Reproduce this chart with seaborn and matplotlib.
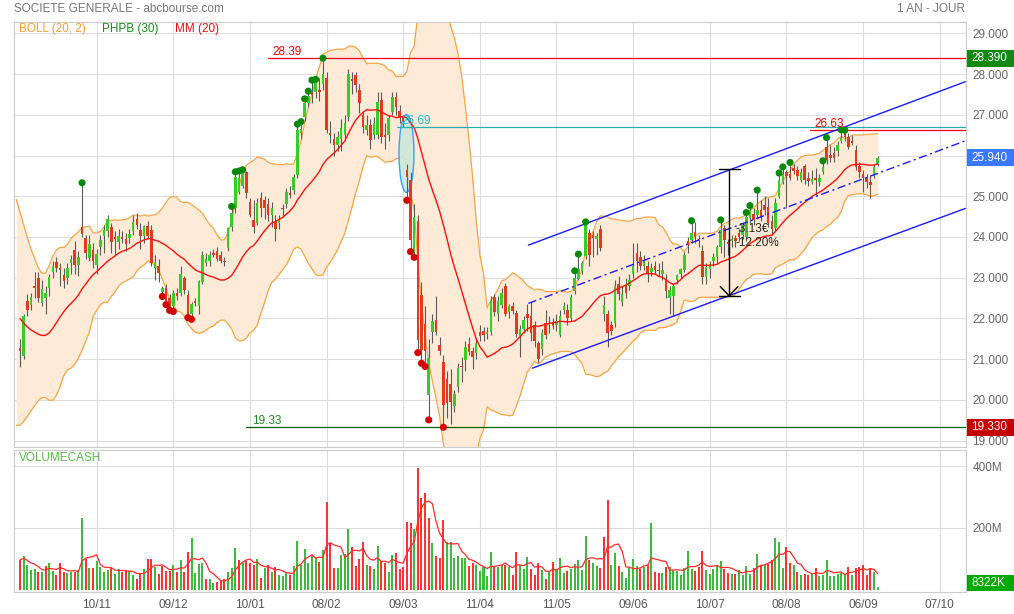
import numpy as np
import pandas as pd
import matplotlib
matplotlib.use("Agg")
import matplotlib.pyplot as plt
from matplotlib.patches import Ellipse, Rectangle
import seaborn as sns

W, H = 1014, 614

# closes of the sessions just before the first visible bar (they feed the 20-day band at the left edge)
prior_close = [24.3, 24.2, 24.1, 24.0, 23.8, 23.6, 23.3, 22.6, 21.8, 21.0,
               20.5, 20.3, 20.4, 21.0, 21.6, 21.5, 21.3, 21.0, 21.3, 21.4]

# daily OHLC (index 0 = first visible session, mid-October 2022)
opens = [
    21.27, 21.09, 22.43, 22.34, 22.80, 23.00, 22.38, 22.50, 22.75, 23.15,
    23.38, 23.24, 23.07, 22.99, 23.36, 23.69, 23.32, 24.25, 23.98, 23.48,
    23.69, 23.32, 23.75, 24.02, 24.14, 24.25, 24.00, 23.87, 24.00, 23.95,
    23.98, 24.14, 24.44, 24.16, 24.02, 24.28, 24.16, 23.24, 23.28, 22.66,
    22.75, 22.50, 22.30, 22.62, 22.62, 23.00, 22.58, 22.10, 22.42, 22.30,
    22.90, 23.35, 23.40, 23.60, 23.65, 23.55, 23.42, 23.72, 24.25, 24.70,
    25.11, 25.24, 25.60, 24.85, 24.42, 24.35, 24.95, 24.90, 24.80, 24.55,
    24.38, 24.34, 24.72, 24.80, 25.08, 25.15, 25.52, 26.55, 26.94, 27.30,
    27.57, 27.57, 27.62, 27.75, 27.90, 26.55, 26.40, 26.25, 26.40, 26.50,
    26.94, 27.88, 27.97, 27.60, 27.00, 26.62, 26.75, 26.50, 26.50, 27.36,
    26.50, 26.50, 27.08, 27.44, 27.10, 26.95, 25.65, 25.40, 23.64, 24.40,
    22.58, 21.87, 20.13, 21.66, 21.97, 21.35, 20.94, 20.52, 20.40, 19.84,
    20.33, 20.82, 20.99, 21.38, 21.19, 21.15, 21.66, 21.70, 21.62, 21.68,
    22.52, 22.10, 22.32, 22.80, 22.15, 22.30, 22.14, 21.57, 21.73, 22.10,
    22.05, 21.85, 21.40, 21.24, 21.90, 21.85, 21.92, 21.85, 21.60, 22.20,
    22.20, 22.00, 22.67, 22.98, 23.17, 23.53, 24.10, 24.05, 23.95, 24.20,
    22.10, 22.10, 21.85, 21.90, 22.85, 22.40, 22.80, 22.80, 23.10, 23.60,
    23.50, 23.30, 23.30, 23.15, 23.28, 23.18, 23.10, 22.97, 22.50, 22.55,
    22.95, 23.10, 23.19, 23.89, 23.93, 24.13, 23.95, 23.65, 23.03, 23.22,
    23.40, 23.52, 23.76, 24.21, 23.87, 23.90, 23.97, 24.09, 24.05, 24.00,
    24.46, 24.57, 24.55, 24.66, 24.79, 24.73, 24.40, 24.21, 24.99, 25.35,
    25.60, 25.55, 25.70, 25.65, 25.40, 25.75, 25.45, 25.35, 25.45, 25.35,
    25.60, 26.22, 26.01, 26.05, 26.10, 26.35, 26.55, 26.46, 26.35, 26.14,
    25.75, 25.55, 25.45, 25.36, 25.50, 25.80,
]
highs = [
    21.50, 22.10, 22.60, 22.62, 23.15, 23.15, 22.95, 22.80, 23.10, 23.40,
    23.50, 23.35, 23.25, 23.35, 23.55, 23.90, 23.65, 25.33, 24.05, 24.05,
    23.85, 23.70, 24.05, 24.30, 24.55, 24.35, 24.15, 24.20, 24.15, 24.10,
    24.20, 24.55, 24.58, 24.35, 24.30, 24.40, 24.30, 23.55, 23.45, 22.80,
    22.85, 22.60, 22.70, 22.75, 23.30, 23.05, 22.70, 22.40, 22.50, 22.95,
    23.65, 23.60, 23.65, 23.70, 23.75, 23.65, 23.50, 24.25, 24.75, 25.60,
    25.62, 25.65, 25.62, 24.95, 24.90, 24.95, 25.10, 25.00, 24.95, 24.85,
    24.55, 24.55, 24.80, 25.20, 25.25, 25.55, 26.77, 26.83, 27.39, 27.58,
    27.85, 27.87, 27.90, 28.39, 28.05, 26.85, 26.55, 26.60, 26.90, 27.00,
    28.12, 28.05, 28.05, 27.75, 27.10, 27.00, 26.90, 26.95, 27.55, 27.55,
    26.80, 27.00, 27.55, 27.55, 27.25, 27.00, 25.80, 25.60, 24.80, 24.55,
    22.90, 22.30, 21.50, 22.10, 22.55, 21.55, 21.10, 20.70, 20.75, 20.25,
    20.90, 21.05, 21.45, 21.55, 21.30, 21.50, 21.85, 21.80, 21.78, 22.55,
    22.60, 22.55, 22.75, 22.88, 22.35, 22.40, 22.20, 21.85, 22.05, 22.35,
    22.40, 21.95, 21.45, 21.75, 22.20, 22.05, 22.00, 22.10, 22.20, 22.40,
    22.35, 22.60, 23.17, 23.58, 23.42, 24.37, 24.20, 24.15, 24.10, 24.30,
    22.55, 22.20, 21.95, 22.95, 23.05, 22.80, 23.00, 23.10, 23.85, 23.85,
    23.65, 23.55, 23.40, 23.35, 23.40, 23.35, 23.40, 23.10, 22.80, 22.85,
    23.10, 23.25, 23.62, 24.00, 24.40, 24.38, 24.05, 23.80, 23.35, 23.40,
    23.60, 23.80, 24.42, 24.30, 23.95, 24.05, 24.05, 24.20, 24.35, 24.60,
    24.77, 24.70, 25.15, 24.90, 25.00, 24.95, 24.55, 24.95, 25.57, 25.72,
    25.65, 25.83, 25.80, 25.75, 25.70, 25.80, 25.60, 25.65, 25.69, 25.55,
    25.87, 26.44, 26.25, 26.20, 26.35, 26.63, 26.62, 26.55, 26.50, 26.25,
    25.85, 25.65, 25.55, 25.50, 25.80, 26.00,
]
lows = [
    20.80, 21.00, 22.05, 22.20, 22.50, 22.40, 22.30, 22.10, 22.55, 23.00,
    23.15, 22.80, 22.75, 22.85, 23.10, 23.10, 23.05, 24.00, 23.45, 23.40,
    23.25, 23.10, 23.55, 23.60, 24.00, 23.60, 23.55, 23.70, 23.85, 23.65,
    23.85, 24.05, 24.20, 23.70, 23.85, 23.95, 23.30, 22.95, 22.90, 22.54,
    22.34, 22.20, 22.17, 22.45, 22.55, 22.60, 22.02, 21.98, 22.30, 22.10,
    22.85, 23.30, 23.30, 23.50, 23.40, 23.35, 23.30, 23.65, 24.15, 24.60,
    25.05, 25.20, 24.95, 24.50, 24.10, 24.30, 24.50, 24.45, 24.40, 24.25,
    23.90, 24.20, 24.50, 24.70, 24.95, 25.05, 25.45, 26.40, 26.85, 27.20,
    27.30, 27.40, 27.35, 27.60, 26.55, 26.30, 26.00, 26.10, 26.10, 26.40,
    26.85, 27.50, 27.55, 27.05, 26.55, 26.50, 26.15, 26.40, 26.40, 26.30,
    26.15, 26.35, 27.00, 27.00, 26.80, 26.70, 24.90, 23.64, 23.50, 21.16,
    20.90, 20.82, 19.51, 21.40, 21.60, 21.10, 19.33, 19.55, 19.40, 19.70,
    20.20, 20.45, 20.70, 21.10, 20.75, 21.00, 21.45, 21.45, 21.50, 21.60,
    22.05, 21.95, 22.25, 22.05, 22.00, 22.10, 21.55, 21.05, 21.65, 21.70,
    21.45, 21.30, 20.90, 21.10, 21.50, 21.65, 21.75, 21.70, 21.55, 22.10,
    21.85, 21.95, 22.60, 22.95, 23.10, 23.45, 23.30, 23.50, 23.55, 23.65,
    21.95, 21.30, 21.60, 21.80, 22.45, 22.30, 22.50, 22.70, 23.00, 23.15,
    23.20, 23.20, 22.90, 23.05, 23.10, 23.05, 22.95, 22.50, 22.10, 22.05,
    22.85, 23.00, 23.15, 23.60, 23.85, 23.85, 23.75, 22.85, 22.85, 23.00,
    23.30, 23.35, 23.60, 23.50, 23.55, 23.75, 23.75, 23.90, 23.95, 23.90,
    24.35, 24.30, 24.45, 24.40, 24.55, 24.25, 24.05, 24.15, 24.95, 25.30,
    24.70, 25.40, 25.55, 25.40, 25.35, 25.30, 25.25, 25.30, 25.03, 25.25,
    25.55, 25.80, 25.85, 25.85, 26.00, 26.30, 26.35, 26.15, 26.25, 25.65,
    25.45, 25.10, 25.20, 24.96, 25.45, 25.75,
]
closes = [
    21.21, 22.07, 22.20, 22.52, 22.75, 22.50, 22.73, 22.62, 23.02, 23.28,
    23.24, 23.18, 22.93, 23.23, 23.46, 23.32, 23.50, 24.08, 23.60, 23.84,
    23.40, 23.59, 23.93, 24.16, 24.43, 23.87, 23.95, 24.03, 23.95, 23.84,
    24.08, 24.37, 24.30, 24.02, 24.28, 24.02, 23.36, 23.39, 23.11, 22.75,
    22.42, 22.24, 22.62, 22.55, 23.09, 22.70, 22.05, 22.35, 22.38, 22.91,
    23.55, 23.45, 23.55, 23.55, 23.45, 23.40, 23.38, 24.21, 24.58, 25.48,
    25.44, 25.56, 25.07, 24.54, 24.24, 24.83, 24.70, 24.70, 24.54, 24.70,
    24.20, 24.45, 24.68, 25.10, 25.03, 25.48, 26.63, 26.65, 27.28, 27.45,
    27.48, 27.85, 27.56, 28.00, 26.62, 26.50, 26.25, 26.45, 26.67, 26.80,
    28.00, 27.83, 27.73, 27.28, 26.70, 26.75, 26.38, 26.80, 27.32, 26.46,
    26.45, 26.91, 27.43, 27.20, 26.95, 26.85, 25.48, 23.93, 24.48, 21.47,
    21.23, 21.21, 21.03, 21.95, 21.68, 21.19, 19.88, 19.92, 19.96, 20.15,
    20.78, 20.80, 21.29, 21.17, 21.05, 21.39, 21.56, 21.60, 21.68, 22.42,
    22.15, 22.42, 22.63, 22.12, 22.30, 22.18, 21.62, 21.73, 21.97, 22.00,
    21.65, 21.45, 21.00, 21.65, 21.60, 21.88, 21.82, 21.95, 22.07, 22.30,
    22.00, 22.53, 23.00, 23.22, 23.36, 24.35, 23.57, 23.98, 24.02, 23.73,
    22.32, 21.65, 21.70, 22.80, 22.60, 22.60, 22.63, 22.95, 23.30, 23.40,
    23.30, 23.42, 23.08, 23.25, 23.18, 23.16, 23.20, 22.67, 22.70, 22.80,
    23.07, 23.21, 23.56, 23.81, 24.09, 24.01, 23.90, 23.03, 23.27, 23.33,
    23.52, 23.76, 24.17, 23.93, 23.83, 23.95, 23.89, 23.99, 24.30, 24.50,
    24.66, 24.42, 24.66, 24.50, 24.66, 24.34, 24.20, 24.83, 25.40, 25.55,
    25.50, 25.45, 25.62, 25.50, 25.60, 25.40, 25.38, 25.42, 25.40, 25.45,
    25.73, 25.89, 25.93, 25.95, 26.26, 26.42, 26.45, 26.22, 26.30, 25.73,
    25.59, 25.45, 25.35, 25.28, 25.73, 25.94,
]
# traded capital per session, millions of euros
volume_m = [
    96, 108, 80, 63, 66, 58, 57, 76, 86, 60,
    49, 86, 57, 55, 57, 57, 64, 231, 101, 71,
    71, 93, 74, 58, 64, 71, 52, 66, 57, 64,
    60, 49, 33, 55, 68, 101, 99, 74, 52, 77,
    60, 60, 79, 58, 96, 57, 123, 168, 55, 82,
    86, 35, 35, 22, 24, 27, 33, 57, 69, 134,
    97, 88, 93, 86, 79, 101, 38, 71, 79, 57,
    75, 46, 44, 55, 46, 77, 157, 79, 132, 86,
    110, 107, 90, 130, 283, 152, 71, 71, 112, 115,
    198, 137, 77, 101, 156, 80, 77, 66, 140, 93,
    86, 57, 112, 119, 66, 75, 220, 216, 196, 396,
    297, 315, 233, 152, 108, 102, 227, 154, 156, 102,
    110, 102, 102, 77, 86, 79, 60, 74, 44, 121,
    77, 75, 81, 79, 73, 49, 122, 79, 66, 106,
    66, 49, 86, 63, 36, 59, 90, 68, 104, 55,
    62, 68, 84, 95, 65, 174, 95, 86, 77, 70,
    171, 292, 79, 120, 76, 57, 39, 70, 100, 76,
    68, 73, 81, 217, 57, 55, 55, 73, 73, 63,
    59, 49, 70, 127, 68, 60, 73, 125, 65, 52,
    68, 81, 92, 66, 55, 52, 52, 65, 46, 77,
    52, 70, 117, 81, 79, 84, 95, 167, 154, 70,
    138, 86, 81, 57, 46, 52, 49, 52, 70, 43,
    49, 95, 43, 43, 52, 55, 52, 73, 49, 71,
    73, 81, 46, 70, 57, 8.3,
]

# PHPB(30) markers: sessions making a new 30-day high / low
phpb_high_bars = [17, 58, 59, 60, 61, 76, 77, 78, 79, 80, 81, 83, 152, 153, 155,
                  184, 192, 199, 200, 202, 208, 209, 211, 220, 221, 225, 226]
phpb_low_bars = [39, 40, 41, 42, 46, 47, 106, 107, 108, 109, 110, 111, 112, 116]

date_labels = ["10/11", "09/12", "10/01", "08/02", "09/03", "11/04",
               "11/05", "09/06", "10/07", "08/08", "06/09", "07/10"]
bars_per_label = 21
price_ticks = [19, 20, 21, 22, 23, 24, 25, 26, 27, 28, 29]
vol_ticks = [200, 400]

level_high = 28.39
level_low = 19.33
level_gap = 26.69
level_recent = 26.63
last_price = 25.94
last_volume_text = "8322K"

# ---------------------------------------------------------------
sns.set_style("white")
plt.rcParams["font.family"] = ["Liberation Sans", "DejaVu Sans"]

n = len(closes)
idx = np.arange(n)
o = np.array(opens)
h = np.array(highs)
l = np.array(lows)
c = np.array(closes)

all_close = pd.Series(prior_close + closes,
                      index=np.arange(-len(prior_close), n))
ma = all_close.rolling(20).mean()
sd = all_close.rolling(20).std(ddof=0)
upper = ma + 2 * sd
lower = ma - 2 * sd
band = pd.DataFrame({"x": ma.index, "ma": ma, "up": upper, "lo": lower}).dropna()

vol = pd.Series(volume_m)
vol_ma = vol.rolling(5, min_periods=1).mean()
prev_close = np.array([prior_close[-1]] + closes[:-1])
vol_colors = np.where(c >= prev_close, "#3dbb3d", "#ff3333")

fig = plt.figure(figsize=(W / 100, H / 100), dpi=100)
ax = fig.add_axes([14 / W, 1 - 447 / H, 952 / W, 425 / H])
axv = fig.add_axes([14 / W, 1 - 592 / H, 952 / W, 142 / H])

xlim = (-1.64, 259.2)
grid_x = [bars_per_label * (k + 1) for k in range(len(date_labels))]

# Bollinger band + moving average
ax.fill_between(band["x"], band["lo"], band["up"], color="#fdebd7", lw=0, zorder=1)
sns.lineplot(x=band["x"], y=band["up"], ax=ax, color="#f6a545", lw=0.9, zorder=2)
sns.lineplot(x=band["x"], y=band["lo"], ax=ax, color="#f6a545", lw=0.9, zorder=2)
ma_vis = band[band["x"] >= 0]
sns.lineplot(x=ma_vis["x"], y=ma_vis["ma"], ax=ax, color="#ff1010", lw=1.0, zorder=6)

# highlighted zone
ax.add_patch(Ellipse((105.9, 26.05), 4.1, 1.91, fc=(0.78, 0.91, 0.86, 0.85),
                     ec="#3b9cff", lw=1.0, zorder=3))

# candles
up = c >= o
body_lo = np.minimum(o, c)
body_h = np.maximum(np.abs(c - o), 0.03)
ax.vlines(idx, l, h, color="#5a5a5a", lw=0.8, zorder=4)
ax.bar(idx, body_h, bottom=body_lo, width=0.7,
       color=np.where(up, "#38cc28", "#e23a1c"), lw=0, zorder=5)

# PHPB markers
sns.scatterplot(x=phpb_high_bars, y=h[phpb_high_bars], ax=ax, color="#0a880a",
                s=26, edgecolor="none", zorder=7, legend=False)
sns.scatterplot(x=phpb_low_bars, y=l[phpb_low_bars], ax=ax, color="#d40000",
                s=26, edgecolor="none", zorder=7, legend=False)

# horizontal levels
ax.plot([68, xlim[1]], [level_high, level_high], color="#ff0000", lw=0.9, zorder=6)
ax.text(69.3, level_high + 0.14, f"{level_high:.2f}", color="#ff0000", fontsize=8.5, va="center")
ax.plot([62, xlim[1]], [level_low, level_low], color="#006400", lw=0.9, zorder=6)
ax.text(63.5, level_low + 0.16, f"{level_low:.2f}", color="#1f8a1f", fontsize=8.5, va="center")
ax.plot([103.2, xlim[1]], [level_gap, level_gap], color="#22b0b0", lw=0.9, zorder=6)
ax.text(104.6, level_gap + 0.165, f"{level_gap:.2f}", color="#2cb8c8", fontsize=8.5,
        va="center", zorder=8)
ax.plot([216.4, xlim[1]], [level_recent, level_recent], color="#ff0000", lw=0.9, zorder=6)
ax.text(217.8, level_recent + 0.14, f"{level_recent:.2f}", color="#ff0000", fontsize=8.5,
        va="center", zorder=8)

# regression channel
ax.plot([139.3, 259.0], [23.80, 27.81], color="#1a1aff", lw=1.0, zorder=6)
ax.plot([139.3, 259.0], [22.37, 26.36], color="#1a1aff", lw=1.0,
        ls=(0, (6, 2.5, 1.5, 2.5)), zorder=6)
ax.plot([140.4, 259.0], [20.78, 24.70], color="#1a1aff", lw=1.0, zorder=6)

# measure arrow
ax.plot([194.3, 194.3], [25.66, 22.56], color="black", lw=1.0, zorder=8)
ax.plot([191.4, 197.2], [25.66, 25.66], color="black", lw=1.0, zorder=8)
ax.plot([191.4, 197.2], [22.56, 22.56], color="black", lw=1.0, zorder=8)
ax.plot([191.9, 194.3, 196.7], [22.78, 22.56, 22.78], color="black", lw=1.0, zorder=8)
ax.text(196.0, 24.19, "-3.13€", fontsize=8.5, va="center", zorder=8)
ax.text(196.0, 23.86, "-12.20%", fontsize=8.5, va="center", zorder=8)

# volume
axv.bar(idx, volume_m, width=0.55, color=vol_colors, lw=0, zorder=3)
sns.lineplot(x=idx, y=vol_ma, ax=axv, color="#ff2a2a", lw=0.9, zorder=4)

# axes styling
for a in (ax, axv):
    a.set_xlim(*xlim)
    a.set_xticks(grid_x)
    a.grid(True, color="#dddddd", lw=0.8)
    a.set_axisbelow(True)
    a.yaxis.tick_right()
    a.set_xlabel("")
    a.set_ylabel("")
    for s in a.spines.values():
        s.set_color("#cccccc")
        s.set_linewidth(0.8)
    a.tick_params(axis="y", length=0, pad=4.5, labelsize=8.5, labelcolor="#666666")

ax.set_ylim(18.845, 29.277)
ax.set_yticks(price_ticks)
ax.set_yticklabels([f"{p:.3f}" for p in price_ticks])
ax.tick_params(axis="x", length=0, labelbottom=False)

axv.set_ylim(-7.6, 453)
axv.set_yticks(vol_ticks)
axv.set_yticklabels([f"{v}M" for v in vol_ticks])
axv.set_xticklabels(date_labels)
axv.tick_params(axis="x", length=0, pad=5, labelsize=8.5, labelcolor="#555555")


def fx(px):
    return px / W


def fy(py):
    return 1 - py / H


# value boxes on the right
for price, label, colr in [(level_high, f"{level_high:.3f}", "#128a12"),
                           (last_price, f"{last_price:.3f}", "#3a78ff"),
                           (level_low, f"{level_low:.3f}", "#c40000")]:
    yc = ax.transData.transform((0, price))[1]
    fig.add_artist(Rectangle((fx(967), (yc - 8.5) / H), 47 / W, 17 / H,
                             transform=fig.transFigure, fc=colr, ec="none", zorder=10))
    fig.text(fx(971), yc / H, label, color="white", fontsize=8.5, va="center", zorder=11)

fig.add_artist(Rectangle((fx(967), fy(591)), 47 / W, 16 / H,
                         transform=fig.transFigure, fc="#00aa00", ec="none", zorder=10))
fig.text(fx(971), fy(583), last_volume_text, color="white", fontsize=8.5, va="center", zorder=11)

# header and legends
fig.text(fx(14), fy(9), "SOCIETE GENERALE - abcbourse.com", color="#777777",
         fontsize=8.5, va="center")
fig.text(fx(965), fy(9), "1 AN - JOUR", color="#777777", fontsize=8.5,
         va="center", ha="right")
fig.text(fx(19), fy(29), "BOLL (20, 2)", color="#f5a030", fontsize=8.5, va="center")
fig.text(fx(102), fy(29), "PHPB (30)", color="#1a8c1a", fontsize=8.5, va="center")
fig.text(fx(175), fy(29), "MM (20)", color="#ee1111", fontsize=8.5, va="center")
fig.text(fx(19), fy(458), "VOLUMECASH", color="#55bb44", fontsize=8.5, va="center")

fig.savefig("out.png", dpi=100)
